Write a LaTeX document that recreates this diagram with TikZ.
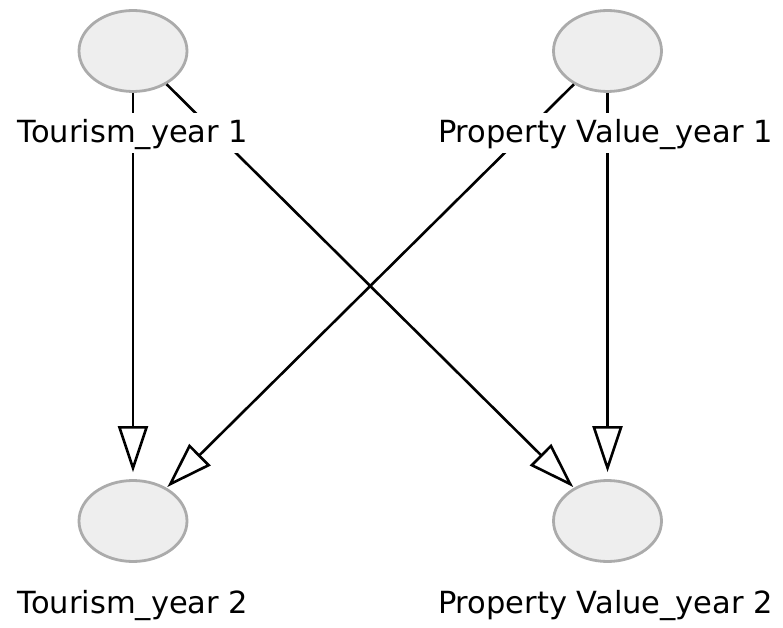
\documentclass[tikz,border=0pt]{standalone}
\usepackage{fontspec}
\setmainfont{DejaVu Sans}
\usetikzlibrary{shapes.geometric,arrows.meta}
\definecolor{nodefill}{HTML}{EEEEEE}
\definecolor{nodeline}{HTML}{ABABAB}
\tikzset{
  varnode/.style={ellipse, draw=nodeline, fill=nodefill, line width=2.8pt,
    minimum width=108pt, minimum height=81pt, inner sep=0pt},
  varlabel/.style={fill=white, anchor=base, inner xsep=4pt, inner ysep=5pt,
    text height=25pt, text depth=5pt, font=\fontsize{30.5}{36}\selectfont},
  link/.style={line width=2.6pt, -{Triangle[fill=white, length=46pt, width=30pt, line width=2.6pt]}},
  straightlink/.style={link, shorten >=7pt},
  crosslink/.style={link, shorten >=1pt}
}
\begin{document}
\begin{tikzpicture}[x=1pt,y=1pt]
\useasboundingbox (0,0) rectangle (783,627);
\node[varnode] (t1) at (133,576) {};
\node[varnode] (p1) at (607.5,576) {};
\node[varnode] (t2) at (133,106) {};
\node[varnode] (p2) at (607.5,106) {};
\draw[straightlink] (t1) -- (t2);
\draw[straightlink] (p1) -- (p2);
\draw[crosslink] (t1) -- (p2);
\draw[crosslink] (p1) -- (t2);
\node[varlabel] (lt1) at (133,484) {Tourism\_year 1};
\node[varlabel] (lp1) at (605.5,484) {Property Value\_year 1};
\node[varlabel] (lt2) at (133,14) {Tourism\_year 2};
\node[varlabel] (lp2) at (605.5,14) {Property Value\_year 2};
\end{tikzpicture}
\end{document}
